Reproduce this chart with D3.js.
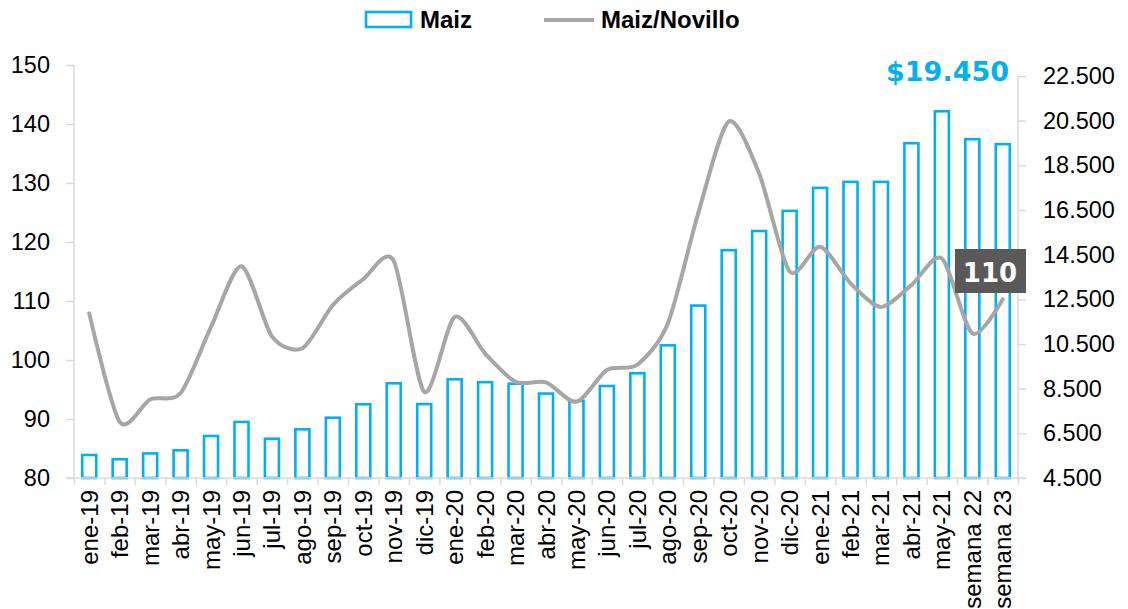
<!DOCTYPE html>
<html>
<head>
<meta charset="utf-8">
<script src="https://cdn.jsdelivr.net/npm/d3@7"></script>
<style>
body{margin:0;background:#fff;}
svg text{font-family:"Liberation Sans Narrow","Liberation Sans",Arial,sans-serif;}
.axis line{stroke:#d9d9d9;stroke-width:1.5;}
.axis .domain{display:none;}
.axis text{fill:#000;font-size:23.5px;}
.xAxis text{font-size:24px;}
</style>
</head>
<body>
<svg id="chart"></svg>
<script>
var months=["ene-19","feb-19","mar-19","abr-19","may-19","jun-19","jul-19","ago-19","sep-19","oct-19","nov-19","dic-19",
            "ene-20","feb-20","mar-20","abr-20","may-20","jun-20","jul-20","ago-20","sep-20","oct-20","nov-20","dic-20",
            "ene-21","feb-21","mar-21","abr-21","may-21","semana 22","semana 23"];
// Maiz, $ por tonelada (eje derecho)
var maiz=[5530,5340,5600,5740,6380,7010,6260,6680,7200,7800,8740,7810,
          8920,8790,8720,8280,7950,8620,9190,10440,12220,14700,15560,16460,
          17490,17760,17760,19490,20920,19670,19450];
// relacion Maiz/Novillo (eje izquierdo)
var ratio=[107.9,89.5,93.3,94.4,105.6,115.9,104.0,102.0,109.3,113.7,116.8,94.6,
           107.3,101.1,96.3,96.2,92.9,98.3,99.2,106.2,124.9,140.4,131.6,115.0,
           119.2,113.0,109.0,112.7,117.2,104.5,110.3];
var leftTicks=[80,90,100,110,120,130,140,150];
var rightTicks=[4500,6500,8500,10500,12500,14500,16500,18500,20500,22500];

var W=1128,H=609;
var svg=d3.select("#chart").attr("width",W).attr("height",H);
var locale=d3.formatLocale({decimal:",",thousands:".",grouping:[3],currency:["$",""]});
var fmt=locale.format(",");

var xScale=d3.scaleBand().domain(months).range([74,1018]).paddingInner(0.54).paddingOuter(0.27);
var xPoint=function(i){return xScale(months[i])+xScale.bandwidth()/2;};
var yLeft=d3.scaleLinear().domain([80,150]).range([478,65]);
var yRight=d3.scaleLinear().domain([4500,22500]).range([478,76]);

// bars
svg.selectAll("rect.bar")
   .data(maiz)
   .enter()
   .append("rect")
   .classed("bar",true)
   .attr("x",function(d,i){return xScale(months[i]);})
   .attr("y",function(d){return yRight(d);})
   .attr("width",xScale.bandwidth())
   .attr("height",function(d){return 478-yRight(d);})
   .attr("fill","#fff")
   .attr("stroke","#00b0f0")
   .attr("stroke-width",2.6);

// axes
var xAxis=d3.axisBottom(d3.scaleLinear().domain([0,months.length]).range([74,1018]))
            .tickValues(d3.range(0,months.length+1)).tickSize(7).tickFormat("");
svg.append("g").classed("axis",true)
   .attr("transform","translate(0,478)")
   .call(xAxis);
svg.append("g").classed("axis xAxis",true)
   .selectAll("text")
   .data(months)
   .enter()
   .append("text")
   .attr("transform",function(d,i){return "translate("+(xPoint(i)+8.5)+",490) rotate(-90)";})
   .attr("text-anchor","end")
   .text(function(d){return d;});

var yAxisL=d3.axisLeft(yLeft).tickValues(leftTicks).tickSize(8).tickPadding(16);
svg.append("g").classed("axis",true)
   .attr("transform","translate(74,0)")
   .call(yAxisL);
var yAxisR=d3.axisRight(yRight).tickValues(rightTicks).tickSize(8).tickFormat(fmt).tickPadding(17);
svg.append("g").classed("axis",true)
   .attr("transform","translate(1018,0)")
   .call(yAxisR);
// axis lines
var axLines=[[66,478,1026,478],[74,yLeft(150),74,478],[1018,yRight(22500),1018,478]];
svg.selectAll("line.axline")
   .data(axLines)
   .enter()
   .append("line")
   .attr("x1",function(d){return d[0];}).attr("y1",function(d){return d[1];})
   .attr("x2",function(d){return d[2];}).attr("y2",function(d){return d[3];})
   .attr("stroke","#d9d9d9").attr("stroke-width",1.5);

// line
var line=d3.line()
           .x(function(d,i){return xPoint(i);})
           .y(function(d){return yLeft(d);})
           .curve(d3.curveCardinal.tension(0.2));
svg.append("path")
   .datum(ratio)
   .attr("d",line)
   .attr("fill","none")
   .attr("stroke","#a6a6a6")
   .attr("stroke-width",4)
   .attr("stroke-linecap","round");

// labels
var last=ratio.length-1;
svg.append("rect")
   .attr("x",955).attr("y",249).attr("width",71).attr("height",44)
   .attr("fill","#595959");
svg.append("text")
   .attr("x",990).attr("y",282)
   .attr("text-anchor","middle")
   .attr("fill","#fff")
   .style("font-family","'DejaVu Sans',sans-serif")
   .style("font-weight","bold")
   .style("font-size","26px")
   .text(d3.format(".0f")(ratio[last]));
svg.append("text")
   .attr("x",1009).attr("y",81)
   .attr("text-anchor","end")
   .attr("fill","#00b0f0")
   .style("font-family","'DejaVu Sans',sans-serif")
   .style("font-weight","bold")
   .style("font-size","27px")
   .text(locale.format("$,")(maiz[last]));

// legend
var lg=svg.append("g");
lg.append("rect").attr("x",366).attr("y",12).attr("width",45).attr("height",15)
  .attr("fill","#fff").attr("stroke","#00b0f0").attr("stroke-width",2.6);
lg.append("text").attr("x",420).attr("y",28).style("font-weight","bold").style("font-size","24px").text("Maiz");
lg.append("line").attr("x1",544).attr("x2",594).attr("y1",20).attr("y2",20)
  .attr("stroke","#a6a6a6").attr("stroke-width",4);
lg.append("text").attr("x",601).attr("y",28).style("font-weight","bold").style("font-size","24px").text("Maiz/Novillo");
</script>
</body>
</html>
